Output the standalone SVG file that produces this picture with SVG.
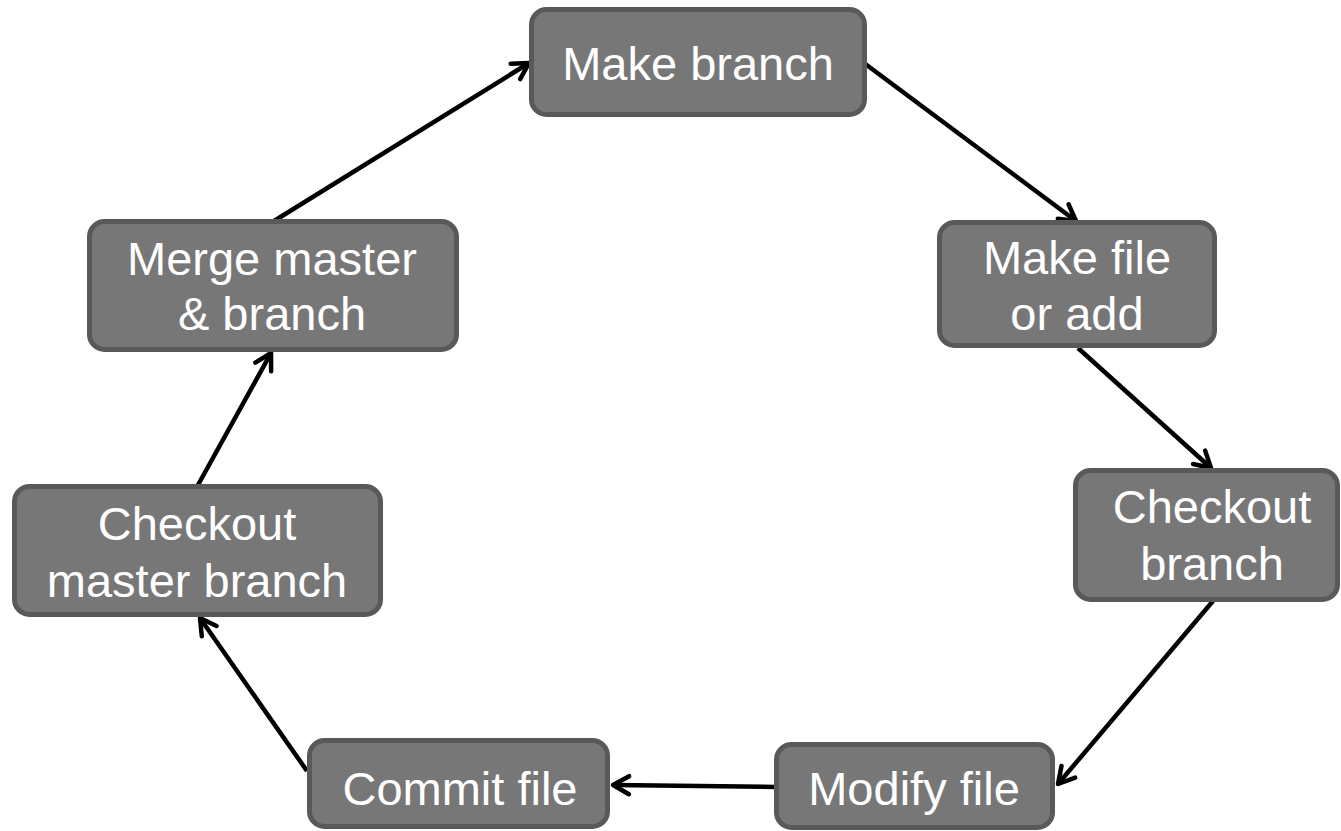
<svg xmlns="http://www.w3.org/2000/svg" width="1341" height="831" viewBox="0 0 1341 831">
<defs>
<style>
.box{fill:#777777;stroke:#595959;stroke-width:5}
.lbl{font-family:"Liberation Sans",Arial,sans-serif;font-size:47px;fill:#ffffff;text-anchor:middle}
.conn{stroke:#000;stroke-width:4.5;fill:none;marker-end:url(#arr)}
</style>
<marker id="arr" markerUnits="userSpaceOnUse" viewBox="-22 -13 26 26" markerWidth="26" markerHeight="26" refX="0" refY="0" orient="auto">
<path d="M-16,-9 L0,0 L-16,9" fill="none" stroke="#000" stroke-width="4.5" stroke-linecap="round" stroke-linejoin="round"/>
</marker>
</defs>
<rect width="1341" height="831" fill="#ffffff"/>
<g id="connectors">
<line class="conn" x1="274" y1="221" x2="529" y2="63"/>
<line class="conn" x1="864" y1="63" x2="1076" y2="221"/>
<line class="conn" x1="1078" y1="348" x2="1211" y2="468"/>
<line class="conn" x1="1213" y1="601" x2="1058" y2="784"/>
<line class="conn" x1="775" y1="787" x2="613" y2="785"/>
<line class="conn" x1="307" y1="771" x2="200" y2="618"/>
<line class="conn" x1="198" y1="485" x2="271" y2="353"/>
</g>
<g id="make-branch">
<rect class="box" x="531.5" y="9.5" width="333" height="105" rx="15"/>
<text class="lbl" x="698" y="80">Make branch</text>
</g>
<g id="make-file">
<rect class="box" x="939.5" y="222.5" width="275" height="123" rx="15"/>
<text class="lbl" x="1077" y="274">Make file</text>
<text class="lbl" x="1077" y="330">or add</text>
</g>
<g id="checkout-branch">
<rect class="box" x="1075.5" y="470.5" width="262" height="129" rx="15"/>
<text class="lbl" x="1212" y="523">Checkout</text>
<text class="lbl" x="1212" y="580">branch</text>
</g>
<g id="modify-file">
<rect class="box" x="776.5" y="744.5" width="276" height="83" rx="15"/>
<text class="lbl" x="914" y="805">Modify file</text>
</g>
<g id="commit-file">
<rect class="box" x="309.5" y="740.5" width="298" height="86" rx="15"/>
<text class="lbl" x="460" y="805">Commit file</text>
</g>
<g id="checkout-master">
<rect class="box" x="14.5" y="486.5" width="366" height="128" rx="15"/>
<text class="lbl" x="197" y="540">Checkout</text>
<text class="lbl" x="197" y="597">master branch</text>
</g>
<g id="merge">
<rect class="box" x="89.5" y="221.5" width="367" height="128" rx="15"/>
<text class="lbl" x="272" y="275">Merge master</text>
<text class="lbl" x="272" y="330">&amp; branch</text>
</g>
</svg>
